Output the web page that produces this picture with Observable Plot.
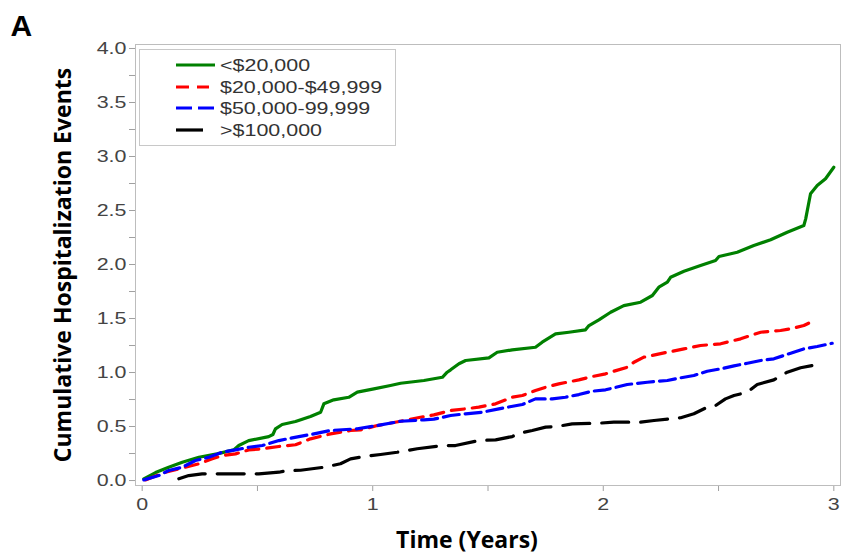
<!DOCTYPE html>
<html>
<head>
<meta charset="utf-8">
<script src="https://cdn.jsdelivr.net/npm/d3@7"></script>
<script src="https://cdn.jsdelivr.net/npm/@observablehq/plot@0.6"></script>
<style>
  body { margin: 0; background: #fff; }
  #wrap { position: relative; width: 841px; height: 555px; background: #fff; }
  #legend { position: absolute; left: 139px; top: 49px; width: 257px; height: 97px;
    border: 1px solid #c8c8c8; background: #fff; box-sizing: border-box; padding-top: 4px;
    font-family: "Liberation Sans", Arial, sans-serif; font-size: 16.5px; color: #333; }
  .row { position: relative; height: 21.7px; }
  .row svg { position: absolute; left: 36px; top: 7px; }
  .row span { position: absolute; left: 80px; top: 1px; white-space: nowrap;
    transform: scaleX(1.3); transform-origin: left center; line-height: 20px; }
</style>
</head>
<body>
<div id="wrap"><div id="legend"></div></div>
<script>
// ---- data ----
const seriesLabels = ["<$20,000", "$20,000-$49,999", "$50,000-99,999", ">$100,000"];

const lt20Time  = [0.007,0.058,0.115,0.174,0.246,0.325,0.397,0.419,0.462,0.549,0.567,0.578,0.607,0.665,0.730,0.774,0.788,0.831,0.896,0.933,1.005,1.077,1.121,1.222,1.302,1.323,1.338,1.374,1.403,1.504,1.540,1.605,1.706,1.735,1.793,1.851,1.923,1.938,1.981,2.032,2.089,2.162,2.213,2.241,2.278,2.292,2.350,2.422,2.487,2.502,2.581,2.653,2.726,2.798,2.870,2.878,2.899,2.928,2.964,3.000];
const lt20Value = [0.016,0.074,0.123,0.169,0.216,0.247,0.284,0.324,0.370,0.407,0.426,0.479,0.519,0.546,0.593,0.632,0.710,0.747,0.771,0.818,0.849,0.880,0.901,0.926,0.956,1.003,1.025,1.081,1.111,1.136,1.188,1.210,1.234,1.281,1.358,1.373,1.395,1.435,1.488,1.558,1.620,1.651,1.713,1.790,1.836,1.882,1.938,1.991,2.037,2.074,2.114,2.176,2.229,2.299,2.361,2.423,2.655,2.731,2.794,2.901];

const mid20Time  = [0.014,0.101,0.159,0.246,0.304,0.347,0.405,0.462,0.521,0.593,0.665,0.730,0.817,0.904,0.947,1.020,1.121,1.207,1.265,1.338,1.403,1.460,1.533,1.605,1.649,1.706,1.750,1.807,1.894,1.952,2.010,2.032,2.104,2.133,2.176,2.278,2.350,2.422,2.509,2.596,2.683,2.769,2.813,2.870,2.914];
const mid20Value = [0.006,0.077,0.108,0.155,0.201,0.231,0.247,0.284,0.294,0.315,0.331,0.386,0.432,0.463,0.469,0.509,0.549,0.586,0.608,0.648,0.664,0.679,0.710,0.771,0.787,0.833,0.864,0.895,0.932,0.963,0.988,1.003,1.049,1.095,1.142,1.188,1.219,1.250,1.266,1.312,1.373,1.389,1.405,1.435,1.481];

const mid50Time  = [0.007,0.072,0.115,0.174,0.231,0.289,0.347,0.405,0.462,0.521,0.593,0.651,0.730,0.817,0.933,1.020,1.121,1.222,1.265,1.338,1.403,1.475,1.547,1.649,1.706,1.779,1.836,1.894,1.952,2.010,2.104,2.191,2.278,2.336,2.393,2.451,2.509,2.567,2.625,2.683,2.740,2.813,2.870,2.928,2.993];
const mid50Value = [0.006,0.046,0.093,0.123,0.185,0.216,0.262,0.284,0.308,0.324,0.370,0.395,0.426,0.463,0.479,0.509,0.549,0.562,0.568,0.602,0.618,0.632,0.664,0.704,0.756,0.756,0.771,0.796,0.827,0.840,0.889,0.910,0.926,0.951,0.972,1.012,1.034,1.062,1.086,1.111,1.127,1.179,1.219,1.241,1.271];

const gt100Time  = [0.159,0.202,0.260,0.448,0.506,0.593,0.629,0.687,0.788,0.860,0.904,0.961,1.034,1.106,1.193,1.308,1.359,1.460,1.533,1.605,1.634,1.692,1.750,1.807,1.865,1.981,2.046,2.162,2.220,2.336,2.393,2.451,2.487,2.530,2.567,2.625,2.668,2.740,2.798,2.856,2.907];
const gt100Value = [0.016,0.046,0.062,0.062,0.062,0.077,0.093,0.095,0.123,0.155,0.201,0.222,0.241,0.262,0.294,0.324,0.324,0.370,0.377,0.407,0.438,0.463,0.494,0.503,0.525,0.531,0.540,0.540,0.556,0.581,0.618,0.679,0.694,0.756,0.787,0.818,0.889,0.932,1.003,1.044,1.065];

const yTickValues = [0, 0.5, 1, 1.5, 2, 2.5, 3, 3.5, 4];
const yTickLabels = ["0.0","0.5","1.0","1.5","2.0","2.5","3.0","3.5","4.0"];
const yMinorTicks = [0.25, 0.75, 1.25, 1.75, 2.25, 2.75, 3.25, 3.75];
const xTickValues = [0, 1, 2, 3];
const xTickLabels = ["0","1","2","3"];
const xMinorTicks = [0.5, 1.5, 2.5];

const panelLabel = "A";
const xTitle = "Time (Years)";
const yTitle = "Cumulative Hospitalization Events";

// ---- styles (kept apart from the data) ----
const seriesStyle = [
  {stroke: "#008000", dash: null,   legendLen: 39},
  {stroke: "#ff0000", dash: "13,8", legendLen: 33},
  {stroke: "#0000ff", dash: "16,6", legendLen: 39},
  {stroke: "#000000", dash: "27,12", legendLen: 27}
];

const seriesData = [
  [lt20Time, lt20Value],
  [mid20Time, mid20Value],
  [mid50Time, mid50Value],
  [gt100Time, gt100Value]
].map(([t, v], i) => t.map((d, j) => ({series: seriesLabels[i], t: d, v: v[j]})));

const lineMarks = seriesData.map((rows, i) => Plot.line(rows, {
  x: "t", y: "v",
  stroke: seriesStyle[i].stroke,
  strokeWidth: 3.2,
  strokeDasharray: seriesStyle[i].dash,
  strokeLinejoin: "round",
  curve: "linear"
}));

const plot = Plot.plot({
  width: 841, height: 555,
  marginLeft: 135, marginRight: 1, marginTop: 44, marginBottom: 70,
  style: {fontFamily: "'Liberation Sans', Arial, sans-serif", fontSize: "16.5px", background: "#fff", color: "#444", overflow: "visible"},
  x: {domain: [-0.029, 3.029]},
  y: {domain: [-0.046, 4.037]},
  marks: [
    Plot.axisY(yTickValues, {tickFormat: d => yTickLabels[yTickValues.indexOf(d)], tickSize: 6, tickPadding: 3, stroke: "#a0a0a0", fill: "#444", label: null}),
    Plot.axisY(yMinorTicks, {tickFormat: () => "", tickSize: 6, stroke: "#a0a0a0", label: null}),
    Plot.axisX(xTickValues, {tickFormat: d => xTickLabels[xTickValues.indexOf(d)], tickSize: 6, tickPadding: 7, stroke: "#a0a0a0", fill: "#444", label: null}),
    Plot.axisX(xMinorTicks, {tickFormat: () => "", tickSize: 6, stroke: "#a0a0a0", label: null}),
    Plot.frame({stroke: "#bdbdbd"}),
    ...lineMarks,
    Plot.text([xTitle], {text: d => d, frameAnchor: "bottom", textAnchor: "middle", dx: -21, dy: 55, lineAnchor: "middle",
      fontFamily: "'Open Sans', sans-serif", fontWeight: "bold", fontSize: 23, fill: "#000"}),
    Plot.text([yTitle], {text: d => d, frameAnchor: "left", textAnchor: "middle", rotate: -90, dx: -72, lineAnchor: "middle",
      fontFamily: "'Open Sans', sans-serif", fontWeight: "bold", fontSize: 23, fill: "#000"}),
    Plot.text([panelLabel], {text: d => d, frameAnchor: "top-left", textAnchor: "start", dx: -125, dy: -18, lineAnchor: "middle",
      fontFamily: "'Liberation Sans', Arial, sans-serif", fontWeight: "bold", fontSize: 30, fill: "#000"})
  ]
});

// widen tick labels to match the horizontally stretched reference lettering
plot.querySelectorAll('g[aria-label$="tick label"] text').forEach(t => {
  const tr = t.getAttribute("transform");
  if (tr) t.setAttribute("transform", tr + " scale(1.3,1)");
  else {
    const x = +t.getAttribute("x") || 0, y = +t.getAttribute("y") || 0;
    t.removeAttribute("x"); t.removeAttribute("y");
    t.setAttribute("transform", `translate(${x},${y}) scale(1.3,1)`);
  }
});

const wrap = document.getElementById("wrap");
wrap.insertBefore(plot, wrap.firstChild);

// legend built from the same series arrays
const legend = document.getElementById("legend");
seriesLabels.forEach((lab, i) => {
  const row = document.createElement("div");
  row.className = "row";
  const s = seriesStyle[i];
  row.innerHTML = `<svg width="42" height="8"><line x1="0" y1="4" x2="${s.legendLen}" y2="4" stroke="${s.stroke}" stroke-width="3.2"${s.dash ? ` stroke-dasharray="${s.dash}"` : ""}/></svg>`;
  const span = document.createElement("span");
  span.textContent = lab;
  row.appendChild(span);
  legend.appendChild(row);
});
</script>
</body>
</html>
